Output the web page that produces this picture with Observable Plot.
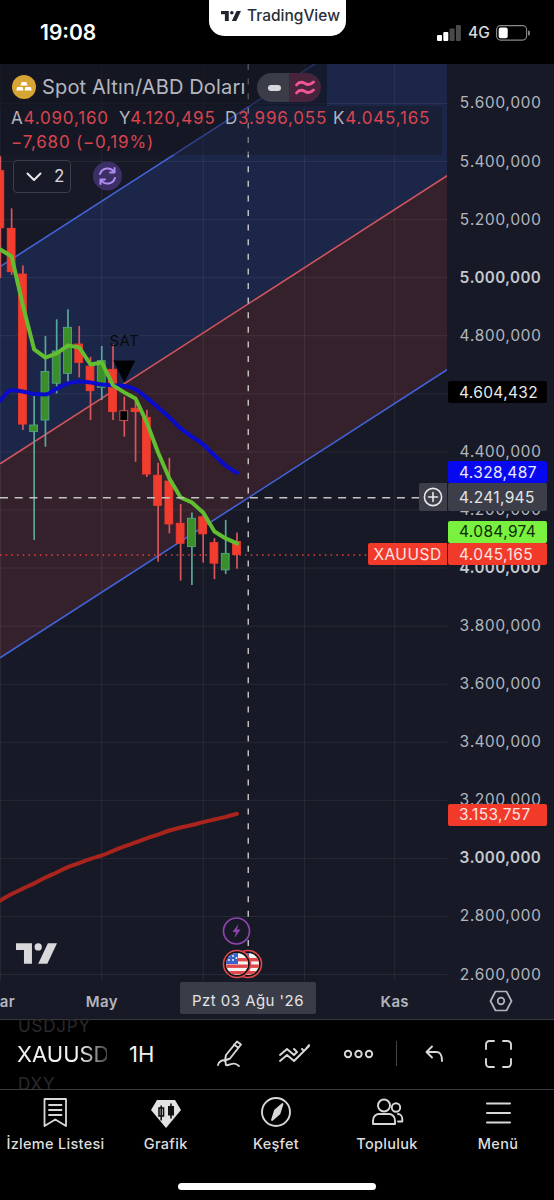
<!DOCTYPE html>
<html lang="tr"><head><meta charset="utf-8">
<script src="https://cdn.jsdelivr.net/npm/d3@7"></script>
<script src="https://cdn.jsdelivr.net/npm/@observablehq/plot@0.6"></script>
<style>
html,body{margin:0;padding:0;background:#000;}
#page{position:relative;width:554px;height:1200px;overflow:hidden;background:#000;font-family:Inter,sans-serif;color:#fff;}
#page>*,.abs{position:absolute;}
#chart{left:0;top:64px;width:554px;height:955px;}
#chart svg{display:block;}
.tag{left:448px;width:99px;box-sizing:border-box;padding-left:11px;font-size:15.5px;letter-spacing:.35px;display:flex;align-items:center;border-radius:2px;}
.mono{font-size:17px;letter-spacing:.8px;white-space:pre;line-height:22px;}
.tab{transform:translateX(-50%);top:1135px;font-size:14.5px;font-weight:500;color:#dedede;white-space:nowrap;letter-spacing:.3px;}
svg.icon{fill:none;stroke:#d8d8d8;stroke-width:1.7;stroke-linecap:round;stroke-linejoin:round;overflow:visible;}
</style></head><body>
<div id="page">
  <div id="chart"></div>
</div>
<script>
// ---- values ---------------------------------------------------------
const candleDates=["2026-03-02","2026-03-09","2026-03-16","2026-03-23","2026-03-30","2026-04-06","2026-04-13","2026-04-20","2026-04-27","2026-05-04","2026-05-11","2026-05-18","2026-05-25","2026-06-01","2026-06-08","2026-06-15","2026-06-22","2026-06-29","2026-07-06","2026-07-13","2026-07-20","2026-07-27"];
const opens =[5367,5168.5,5011,4468,4508,4635,4669,4770,4694,4621,4683,4540,4548.5,4517.5,4318,4298,4152.5,4072,4175,4086,3992,4090.160];
const highs =[5417,5237,5040,4601,4797.5,4855,4889.5,4832,4726,4763,4770,4588.5,4584,4543,4361,4378,4219,4190,4195,4101,4164,4120.495];
const lows  =[4997,5008,4474,4095,4416,4600,4640,4655,4508,4577,4508,4451,4364.6,4312,4020,4118,3955,3940,4017,3960,3978,3996.055];
const closes=[5170,5019,4494,4491,4675,4746,4827.5,4706,4609,4712.5,4537,4506,4537,4322,4214,4150,4083.6,4170,4116,4015,4049,4045.165];
const hollowCandles=["2026-05-18"];
const greenMA=[5097,5073,4904,4753,4725,4739,4766.5,4760,4701,4708,4629,4605,4584,4501,4398,4308.5,4243,4226,4191,4126,4102,4084.974];
const blueMA =[4577,4612,4608,4599.5,4598,4618,4636,4642.5,4639,4632,4629,4627,4615,4586,4553,4519,4481,4453,4426,4388,4353,4328.487];
const redMA  =[2855,2877,2896,2914,2934,2951.5,2970,2984,2998,3010,3026,3041,3055,3069,3082,3096,3106.5,3115,3125,3134,3143,3153.757];
const channelDates=["2026-03-02T02:00Z","2026-12-04T19:00Z"];
const channelUpper=[5039,6030.5];
const channelMid  =[4360,5352];
const channelLower=[3692,4684];
const priceTicks=[2600,2800,3000,3200,3400,3600,3800,4000,4200,4400,4600,4800,5000,5200,5400,5600];
const majorTicks=[3000,4000,5000];
const monthDates=["2026-03-02","2026-05-04","2026-07-06","2026-09-07","2026-11-02"];
const monthNames={"2026-03-02":"Mar","2026-05-04":"May","2026-11-02":"Kas"};
const crossDate="2026-08-03", crossPrice=4241.945, lastPrice=4045.165;
const signalDate="2026-05-18", signalTextPrice=4780, signalMarkPrice=4677, signalLabel="SAT";
const priceTags=[
 {value:4604.432,fill:"#000",color:"#e8e8e8"},
 {value:4328.487,fill:"#0808f0",color:"#e8e8f8"},
 {value:4241.945,fill:"#3c3f4a",color:"#e4e4e6",tall:true},
 {value:4084.974,fill:"#7bf13f",color:"#0d2a05",shift:-11},
 {value:4045.165,fill:"#f23a2b",color:"#fbe4e2"},
 {value:3153.757,fill:"#f23a2b",color:"#fbe4e2",shift:1.5}
];
const ohlc=[["A","4.090,160"],["Y","4.120,495"],["D","3.996,055"],["K","4.045,165"]];
const changeText="−7,680 (−0,19%)";
const tabs=["İzleme Listesi","Grafik","Keşfet","Topluluk","Menü"];

// ---- data tables ----------------------------------------------------
const dt=s=>new Date(s.length>10?s:s+"T00:00Z");
const candles=candleDates.map((d,i)=>({date:dt(d),open:opens[i],high:highs[i],low:lows[i],close:closes[i],up:closes[i]>=opens[i],hollow:hollowCandles.includes(d)}));
const channel=channelDates.map((d,i)=>({date:dt(d),upper:channelUpper[i],mid:channelMid[i],lower:channelLower[i]}));
const series=a=>candleDates.map((d,i)=>({date:dt(d),v:a[i]}));
const numFmt=d3.formatLocale({decimal:",",thousands:".",grouping:[3],currency:["",""]}).format(",.3f");
const halfBody=2.45*864e5;
const triangle={draw(c,size){const s=Math.sqrt(size/Math.PI);c.moveTo(-s,-s);c.lineTo(s,-s);c.lineTo(0,s);c.closePath();}};

const chart=Plot.plot({
  width:554,height:955,marginLeft:0,marginRight:107,marginTop:0,marginBottom:38,
  style:{background:"#171a26",fontFamily:"Inter,sans-serif"},
  x:{type:"utc",domain:[dt(channelDates[0]),dt(channelDates[1])],axis:null},
  y:{domain:[2576,5734.3],axis:null},
  marks:[
    Plot.areaY(channel,{x:"date",y1:"mid",y2:"upper",fill:"#1c2648",clip:true}),
    Plot.areaY(channel,{x:"date",y1:"lower",y2:"mid",fill:"#35212c",clip:true}),
    Plot.ruleY(priceTicks,{stroke:"#fff",strokeOpacity:.07,strokeWidth:1}),
    Plot.ruleX(monthDates.map(dt),{stroke:"#fff",strokeOpacity:.07,strokeWidth:1}),
    Plot.lineY(channel,{x:"date",y:"upper",stroke:"#4462d8",strokeWidth:1.6,clip:true}),
    Plot.lineY(channel,{x:"date",y:"mid",stroke:"#cc5560",strokeWidth:1.6,clip:true}),
    Plot.lineY(channel,{x:"date",y:"lower",stroke:"#4462d8",strokeWidth:1.6,clip:true}),
    Plot.ruleY([lastPrice],{stroke:"#e8403c",strokeWidth:1.4,strokeDasharray:"1.5 4.2"}),
    Plot.ruleX(candles,{x:"date",y1:"low",y2:"high",stroke:d=>d.up?"#5aa897":"#d9555c",strokeWidth:1.7,clip:true}),
    Plot.rect(candles,{x1:d=>new Date(+d.date-halfBody),x2:d=>new Date(+d.date+halfBody),y1:"open",y2:"close",
      fill:d=>d.hollow?"#000":d.up?"#3b8f2a":"#f23c2d",stroke:d=>d.up?"#5aa897":d.hollow?"#e0636a":"#f23c2d",strokeWidth:.8,clip:true}),
    Plot.lineY(series(redMA),{x:"date",y:"v",stroke:"#a8241c",strokeWidth:4,curve:"monotone-x",strokeLinecap:"round",strokeLinejoin:"round",clip:true}),
    Plot.lineY(series(blueMA),{x:"date",y:"v",stroke:"#0b0bcc",strokeWidth:4,curve:"monotone-x",strokeLinecap:"round",strokeLinejoin:"round",clip:true}),
    Plot.lineY(series(greenMA),{x:"date",y:"v",stroke:"#62bd31",strokeWidth:4,strokeLinecap:"round",strokeLinejoin:"round",clip:true}),
    Plot.dot([{d:dt(signalDate),v:signalMarkPrice}],{x:"d",y:"v",symbol:triangle,r:11,fill:"#000",fillOpacity:.95,stroke:"none"}),
    Plot.text([signalLabel],{x:()=>dt(signalDate),y:()=>signalTextPrice,text:d=>d,fill:"#0a0a0a",fontSize:15}),
    Plot.ruleX([dt(crossDate)],{stroke:"#c8c8c8",strokeWidth:1.4,strokeDasharray:"6 8.6"}),
    Plot.ruleY([crossPrice],{stroke:"#c4c4c4",strokeWidth:1.4,strokeDasharray:"8 6.7"}),
    Plot.axisY({anchor:"right",ticks:priceTicks.filter(t=>!majorTicks.includes(t)),tickFormat:numFmt,tickSize:0,tickPadding:12,fontSize:15.5,fill:"#b2b5be",label:null}),
    Plot.axisY({anchor:"right",ticks:majorTicks,tickFormat:numFmt,tickSize:0,tickPadding:12,fontSize:15.5,fontWeight:600,fill:"#c6c8cf",label:null}),
    Plot.axisX({anchor:"bottom",ticks:Object.keys(monthNames).map(dt),tickFormat:d=>monthNames[d.toISOString().slice(0,10)],tickSize:0,tickPadding:15,fontSize:15,fontWeight:600,fill:"#b2b5be",label:null})
  ]
});
document.getElementById("chart").appendChild(chart);
d3.select(chart).selectAll("text").style("letter-spacing",".35px");

const page=document.getElementById("page");
const add=(html)=>{page.insertAdjacentHTML("beforeend",html);};
const yPx=v=>64+chart.scale("y").apply(v);

// legend dim panels
add(`<div style="left:0;top:64px;width:327px;height:42px;background:rgba(19,22,33,.65)"></div>`);
add(`<div style="left:0;top:106px;width:442px;height:49px;background:rgba(19,22,33,.42)"></div>`);

// price tags, placed through the y scale
priceTags.forEach(t=>{
  const h=t.tall?28:22;
  const top=yPx(t.value)+(t.shift||0)-h/2;
  add(`<div class="tag" style="top:${top}px;height:${h}px;background:${t.fill};color:${t.color}">${numFmt(t.value)}</div>`);
});
const yLast=yPx(lastPrice), yCross=yPx(crossPrice);
add(`<div style="left:368px;top:${yLast-11}px;width:79px;height:22px;background:#f23a2b;color:#fbe4e2;font-size:15.5px;letter-spacing:.5px;display:flex;align-items:center;justify-content:center;border-radius:2px 0 0 2px">XAUUSD</div>`);
add(`<div style="left:419px;top:${yCross-14}px;width:28px;height:28px;background:#3c3f4a;border-radius:2px 0 0 2px"></div>`);
add(`<svg class="icon" style="left:424px;top:${yCross-9}px;stroke:#e8e8e8;stroke-width:1.6" width="18" height="18"><circle cx="9" cy="9" r="8.6"/><path d="M9 4.500v9M4.500 9h9"/></svg>`);

// date label
add(`<div style="left:180px;top:982px;width:136px;height:32px;box-sizing:border-box;padding-top:5px;background:#3a3d48;border-radius:2px;color:#e4e4e6;font-size:15px;letter-spacing:.45px;display:flex;align-items:center;justify-content:center">Pzt 03 Ağu '26</div>`);
add(`<svg class="icon" style="left:489px;top:990px;stroke:#b2b5be" width="24" height="22"><path d="M6.500 1.500h11L22.500 11l-5 9.500h-11L1.500 11z"/><circle cx="12" cy="11" r="3.300"/></svg>`);

// header legend
add(`<svg style="left:12px;top:75px" width="24" height="24"><circle cx="12" cy="12" r="12" fill="#d6a534"/><path d="M9.600 7h4.800l1 3.500H8.600zM5.200 12h5.300l1 3.600H4.200zM13.500 12h5.300l1 3.600h-7.300z" fill="#fff"/></svg>`);
add(`<div style="left:42px;top:74px;font-size:20px;color:#b4b7c0;line-height:26px;white-space:nowrap;letter-spacing:.15px">Spot Altın/ABD Doları</div>`);
add(`<div style="left:257px;top:73px;width:32px;height:29px;background:#3a3d48;border-radius:15px 0 0 15px"></div>`);
add(`<div style="left:289px;top:73px;width:32px;height:29px;background:#45243c;border-radius:0 15px 15px 0"></div>`);
add(`<div style="left:268px;top:84.500px;width:13px;height:6px;background:#d8d8dc;border-radius:3px"></div>`);
add(`<svg style="left:295px;top:79px;fill:none;stroke:#f0559a;stroke-width:2.800;stroke-linecap:round" width="20" height="17"><path d="M1.500 6c3-4 6-3 8.500-1.500s5 2 8.500-1.500M1.500 14c3-4 6-3 8.500-1.500s5 2 8.500-1.500"/></svg>`);
const ohlcLeft=[11,119,225,333];
ohlc.forEach(([k,v],i)=>add(`<div class="mono" style="left:${ohlcLeft[i]}px;top:107px;color:#b2b5be">${k}<span style="color:#d8454f">${v}</span></div>`));
add(`<div class="mono" style="left:11px;top:131px;color:#d8454f">${changeText}</div>`);
add(`<div style="left:12.500px;top:160px;width:58px;height:33px;border:1px solid #3c3f4a;border-radius:4px;box-sizing:border-box;background:#171a26"></div>`);
add(`<svg class="icon" style="left:26px;top:172px;stroke:#e8e8e8;stroke-width:2" width="16" height="10"><path d="M1.500 1.500l6.500 6.500 6.500-6.500"/></svg>`);
add(`<div style="left:54px;top:165px;font-size:17px;color:#d8d8dc;line-height:22px">2</div>`);
add(`<svg class="icon" style="left:93px;top:162px;stroke:#b08cf0;stroke-width:2" width="29" height="28"><circle cx="14.500" cy="14" r="14.500" fill="#3b2f66" stroke="none"/><path d="M7 12a7.800 7.800 0 0 1 14-2M22 16a7.800 7.800 0 0 1-14 2"/><path d="M21.500 6v4.500H17M7.500 22v-4.500H12" /></svg>`);

// watermark logo & event badges
const tvLogo=(fill)=>`<path d="M14 0H0v6h7v12h7z" fill="${fill}"/><circle cx="19.500" cy="3.200" r="3.200" fill="${fill}"/><path d="M28 0l-8.500 18h8L36 0z" fill="${fill}"/>`;
add(`<svg style="left:16px;top:943px" width="41" height="21" viewBox="0 0 36 18">${tvLogo("#d9d9dc")}</svg>`);
add(`<svg style="left:222px;top:917px;overflow:visible" width="28" height="28"><circle cx="14.500" cy="14" r="13" fill="#171a26" stroke="#8e44ad" stroke-width="1.700"/><path d="M16.500 7l-6 8h3.500l-1.500 6 6-8.500h-3.500z" fill="#8e44ad"/></svg>`);
const flag=(cx,id)=>`<svg style="left:${cx-15}px;top:949px;overflow:visible" width="30" height="30"><defs><clipPath id="${id}"><circle cx="15" cy="15" r="11"/></clipPath></defs><circle cx="15" cy="15" r="13.500" fill="#111" stroke="#e2474b" stroke-width="1.600"/><g clip-path="url(#${id})"><rect x="3" y="3" width="24" height="24" fill="#f4f4f4"/><rect x="3" y="9" width="24" height="3.400" fill="#e0474a"/><rect x="3" y="15.500" width="24" height="3.400" fill="#e0474a"/><rect x="3" y="22" width="24" height="3.400" fill="#e0474a"/><rect x="3" y="3" width="13" height="12" fill="#3a63c8"/><g fill="#fff"><circle cx="7" cy="7" r=".9"/><circle cx="11" cy="7" r=".9"/><circle cx="7" cy="11" r=".9"/><circle cx="11" cy="11" r=".9"/><circle cx="14.500" cy="9" r=".9"/></g></g></svg>`;
add(flag(248,"fB")); add(flag(236.500,"fA"));

// status bar
add(`<div style="left:40px;top:20px;font-size:21px;font-weight:600;line-height:26px">19:08</div>`);
add(`<div style="left:209px;top:0;width:136.500px;height:36px;background:#fff;border-radius:0 0 15px 15px"></div>`);
add(`<svg style="left:221px;top:11px" width="20" height="10" viewBox="0 0 36 18">${tvLogo("#22252e")}</svg>`);
add(`<div style="left:247px;top:6px;font-size:15.500px;font-weight:500;color:#2a2e39;line-height:20px">TradingView</div>`);
add(`<svg style="left:437px;top:25px" width="24" height="16"><rect x="0" y="10" width="5" height="6" rx="1" fill="#fff"/><rect x="6.300" y="7" width="5" height="9" rx="1" fill="#fff"/><rect x="12.600" y="3.500" width="5" height="12.500" rx="1" fill="#4a4a4a"/><rect x="18.900" y="0" width="5" height="16" rx="1" fill="#4a4a4a"/></svg>`);
add(`<div style="left:468px;top:24px;font-size:15.500px;font-weight:500;color:#d8d8d8;line-height:18px">4G</div>`);
add(`<svg style="left:496px;top:25px" width="35" height="16"><rect x=".6" y=".6" width="30" height="14.500" rx="4" fill="none" stroke="#8a8a8a" stroke-width="1.100"/><rect x="2.700" y="2.600" width="9" height="10.600" rx="2" fill="#fff"/><rect x="32" y="5.500" width="1.800" height="5" rx=".9" fill="#8a8a8a"/></svg>`);

// toolbar
add(`<div style="left:0;top:1019px;width:554px;height:1px;background:#3a3a3e"></div>`);
add(`<div style="left:18px;top:1016px;font-size:17px;color:#2a2a2c;letter-spacing:.8px;line-height:20px">USDJPY</div>`);
add(`<div style="left:18px;top:1074px;font-size:17px;color:#2a2a2c;letter-spacing:.8px;line-height:20px">DXY</div>`);
add(`<div style="left:17px;top:1040px;font-size:22px;line-height:28px;font-weight:400;color:#f2f2f2;width:90px;overflow:hidden;white-space:nowrap;-webkit-mask-image:linear-gradient(90deg,#000 70%,rgba(0,0,0,.3))">XAUUSD</div>`);
add(`<div style="left:129px;top:1040px;font-size:22px;line-height:28px;color:#f2f2f2">1H</div>`);
add(`<svg class="icon" style="left:216px;top:1039px;stroke-width:1.900" width="30" height="30"><path d="M21 2.500l4 3-11 14-5 2 1-5.500zM18 5.500l4 3"/><path d="M2 26c0-3 5-6 7-4s-1 5 3 4 6-3 11 1"/></svg>`);
add(`<svg class="icon" style="left:279px;top:1044px;stroke-width:1.900" width="31" height="20"><path d="M1 11l7-6 7 6 3-3-3-3M30 1l-5 6-2-2M1 17l7-6 7 6 15-15"/></svg>`);
add(`<svg class="icon" style="left:344px;top:1049px;stroke-width:1.900" width="30" height="10"><circle cx="4" cy="5" r="3.200"/><circle cx="14.500" cy="5" r="3.200"/><circle cx="25" cy="5" r="3.200"/></svg>`);
add(`<div style="left:396px;top:1041px;width:1px;height:25px;background:#444"></div>`);
add(`<svg class="icon" style="left:425px;top:1045px;stroke-width:1.900" width="19" height="18"><path d="M7 1.500L1.500 7 7 12.500M1.500 7H11c4 0 6 2 6 9"/></svg>`);
add(`<svg class="icon" style="left:485px;top:1040px;stroke-width:1.900" width="27" height="28"><path d="M1 9V4.500A3.500 3.500 0 0 1 4.500 1H9M18 1h4.500A3.500 3.500 0 0 1 26 4.500V9M26 19v4.500a3.500 3.500 0 0 1-3.500 3.500H18M9 27H4.500A3.500 3.500 0 0 1 1 23.500V19"/></svg>`);
add(`<div style="left:0;top:1089px;width:554px;height:1px;background:#3a3a3e"></div>`);

// tab bar
const tabX=[55.500,165.700,276,387,498];
tabs.forEach((t,i)=>add(`<div class="tab" style="left:${tabX[i]}px">${t}</div>`));
add(`<svg class="icon" style="left:43px;top:1098px;stroke-width:1.800" width="25" height="30"><path d="M1.500 1h21.500v27l-10.700-6.500L1.500 28zM6 7h12.500M6 12h12.500M6 17h12.500"/></svg>`);
add(`<svg style="left:150px;top:1099px" width="32" height="30"><path d="M7 1h18l6 10-15 18L1 11z" fill="#e2e2e2"/><g fill="#111" stroke="#111"><rect x="9" y="9" width="4.500" height="8" fill="none" stroke-width="1.600"/><path d="M11.200 6.500v15" stroke-width="1.600" fill="none"/><rect x="18.500" y="7.500" width="5" height="8.500"/><path d="M21 4.500v15" stroke-width="1.600" fill="none"/></g></svg>`);
add(`<svg class="icon" style="left:261px;top:1097px;stroke-width:1.900" width="30" height="30"><circle cx="15" cy="15" r="14"/><path d="M21.500 7l-3 9.500-7.500 6.500 3-9.500z" fill="#d8d8d8"/></svg>`);
add(`<svg class="icon" style="left:372px;top:1098px;stroke-width:1.900" width="31" height="28"><circle cx="12" cy="7.500" r="6"/><circle cx="24" cy="9.500" r="4.200"/><path d="M1 26v-3.500c0-4 3-6.500 6-6.500h10c3 0 6 2.500 6 6.500V26zM26 16c2.500 0 4.300 2.300 4.300 5v2.500H26"/></svg>`);
add(`<svg class="icon" style="left:486px;top:1102px;stroke-width:2" width="25" height="22"><path d="M1 1.500h23M1 11h23M1 20.500h23"/></svg>`);
add(`<div style="left:178px;top:1182.500px;width:198px;height:7px;background:#fff;border-radius:4px"></div>`);
</script>
</body></html>
